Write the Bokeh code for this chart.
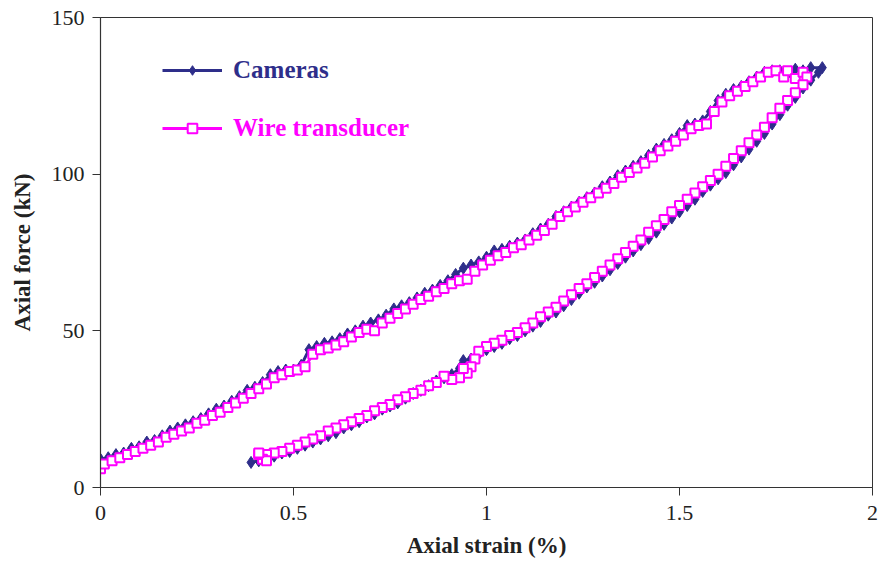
from bokeh.plotting import figure
from bokeh.models import Range1d, FixedTicker, CustomJSTickFormatter, Legend, LegendItem
from bokeh.embed import file_html
from bokeh.resources import INLINE

# ---------------- data ----------------
cam_strain = [
    0.00, 0.02, 0.04, 0.06, 0.08, 0.10, 0.12, 0.14, 0.16, 0.18, 0.20, 0.22, 0.24, 0.26, 0.28,
    0.30, 0.32, 0.34, 0.36, 0.38, 0.40, 0.42, 0.44, 0.46, 0.48, 0.50, 0.52, 0.54, 0.56, 0.58,
    0.60, 0.62, 0.64, 0.66, 0.68, 0.70, 0.72, 0.74, 0.76, 0.78, 0.80, 0.82, 0.84, 0.86, 0.88,
    0.90, 0.92, 0.94, 0.96, 0.98, 1.00, 1.02, 1.04, 1.06, 1.08, 1.10, 1.12, 1.14, 1.16, 1.18,
    1.20, 1.22, 1.24, 1.26, 1.28, 1.30, 1.32, 1.34, 1.36, 1.38, 1.40, 1.42, 1.44, 1.46, 1.48,
    1.50, 1.52, 1.54, 1.56, 1.58, 1.60, 1.62, 1.64, 1.66, 1.68, 1.70, 1.72, 1.74, 1.76, 1.78,
    1.80, 1.82, 1.84, 1.87,
    1.86, 1.84, 1.82, 1.80, 1.78, 1.76, 1.74, 1.72, 1.70, 1.68, 1.66, 1.64, 1.62, 1.60, 1.58,
    1.56, 1.54, 1.52, 1.50, 1.48, 1.46, 1.44, 1.42, 1.40, 1.38, 1.36, 1.34, 1.32, 1.30, 1.28,
    1.26, 1.24, 1.22, 1.20, 1.18, 1.16, 1.14, 1.12, 1.10, 1.08, 1.06, 1.04, 1.02, 1.00, 0.98,
    0.96, 0.94, 0.93, 0.91, 0.89, 0.87, 0.85, 0.83, 0.81, 0.79, 0.77, 0.75, 0.73, 0.71, 0.69,
    0.67, 0.65, 0.63, 0.61, 0.59, 0.57, 0.55, 0.53, 0.51, 0.49, 0.47, 0.45, 0.43, 0.41, 0.39,
]
cam_force = [
    9.0, 9.5, 10.5, 11.0, 12.5, 13.0, 14.5, 15.0, 16.5, 18.0, 19.0, 20.0, 21.0, 22.0, 23.5,
    25.0, 26.0, 27.5, 29.0, 31.0, 32.0, 33.5, 36.0, 37.0, 37.5, 37.5, 39.0, 44.0, 45.0, 46.0,
    46.5, 47.5, 49.0, 50.0, 51.5, 52.5, 53.5, 55.0, 57.0, 58.0, 59.0, 60.5, 62.0, 63.0, 64.5,
    66.0, 68.0, 70.0, 71.0, 72.0, 73.5, 75.5, 76.0, 77.0, 78.0, 79.0, 81.0, 82.5, 84.0, 86.5,
    88.0, 89.5, 91.0, 92.5, 94.0, 96.0, 97.5, 99.5, 101.0, 102.5, 104.0, 106.0, 108.0, 109.5, 111.0,
    113.0, 115.5, 116.0, 117.0, 120.0, 123.5, 125.5, 127.0, 128.0, 129.5, 131.0, 132.5, 133.0, 133.0, 132.0,
    133.5, 133.0, 134.0, 134.0,
    132.5, 130.0, 127.5, 124.5, 122.0, 119.0, 116.0, 113.0, 110.5, 108.0, 105.5, 103.0, 100.5, 98.5, 96.5,
    94.5, 92.0, 90.0, 88.0, 86.0, 84.0, 81.5, 79.5, 77.5, 75.5, 73.5, 71.5, 69.5, 67.5, 65.5,
    64.0, 62.0, 60.0, 58.0, 56.0, 55.0, 53.0, 51.5, 50.0, 48.5, 47.5, 46.0, 45.0, 44.0, 42.5,
    41.0, 40.5, 38.0, 36.0, 35.0, 34.0, 32.5, 31.0, 30.0, 28.5, 27.0, 26.0, 25.0, 23.5, 22.5,
    21.0, 20.0, 19.0, 17.5, 16.5, 15.5, 14.5, 13.5, 12.5, 11.5, 11.0, 10.0, 9.0, 8.5, 8.0,
]

wire_strain = [
    0.00, 0.01, 0.03, 0.05, 0.07, 0.09, 0.11, 0.13, 0.15, 0.17, 0.19, 0.21, 0.23, 0.25, 0.27,
    0.29, 0.31, 0.33, 0.35, 0.37, 0.39, 0.41, 0.43, 0.45, 0.47, 0.49, 0.51, 0.53, 0.55, 0.57,
    0.59, 0.61, 0.63, 0.65, 0.67, 0.69, 0.71, 0.73, 0.75, 0.77, 0.79, 0.81, 0.83, 0.85, 0.87,
    0.89, 0.91, 0.93, 0.95, 0.97, 0.99, 1.01, 1.03, 1.05, 1.07, 1.09, 1.11, 1.13, 1.15, 1.17,
    1.19, 1.21, 1.23, 1.25, 1.27, 1.29, 1.31, 1.33, 1.35, 1.37, 1.39, 1.41, 1.43, 1.45, 1.47,
    1.49, 1.51, 1.53, 1.55, 1.57, 1.59, 1.61, 1.63, 1.65, 1.67, 1.69, 1.71, 1.73, 1.75, 1.77,
    1.78, 1.80, 1.82, 1.83,
    1.82, 1.80, 1.78, 1.76, 1.74, 1.72, 1.70, 1.68, 1.66, 1.64, 1.62, 1.60, 1.58, 1.56, 1.54,
    1.52, 1.50, 1.48, 1.46, 1.44, 1.42, 1.40, 1.38, 1.36, 1.34, 1.32, 1.30, 1.28, 1.26, 1.24,
    1.22, 1.20, 1.18, 1.16, 1.14, 1.12, 1.10, 1.08, 1.06, 1.04, 1.02, 1.00, 0.98, 0.97, 0.96,
    0.95, 0.94, 0.93, 0.91, 0.89, 0.87, 0.85, 0.83, 0.81, 0.79, 0.77, 0.75, 0.73, 0.71, 0.69,
    0.67, 0.65, 0.63, 0.61, 0.59, 0.57, 0.55, 0.53, 0.51, 0.49, 0.47, 0.45, 0.43, 0.42, 0.41,
    0.43, 0.41,
]
wire_force = [
    6.0, 7.5, 8.5, 9.5, 10.5, 11.5, 12.5, 13.5, 14.5, 16.0, 17.0, 18.0, 19.0, 20.5, 21.5,
    23.0, 24.0, 25.5, 27.0, 28.5, 30.0, 31.5, 33.0, 35.0, 36.0, 37.0, 37.5, 38.5, 42.5, 44.0,
    44.5, 45.5, 46.5, 48.0, 49.5, 50.5, 50.0, 52.5, 54.0, 55.5, 57.0, 58.5, 60.0, 61.0, 62.5,
    63.5, 65.0, 66.0, 66.5, 69.0, 71.0, 72.5, 74.0, 75.0, 76.5, 77.5, 79.0, 80.5, 82.0, 84.0,
    86.5, 88.0, 89.5, 91.0, 92.5, 94.0, 95.5, 97.0, 99.0, 100.5, 102.0, 103.5, 105.5, 107.5, 109.0,
    110.5, 112.5, 114.5, 115.5, 116.0, 120.0, 123.0, 125.0, 126.5, 128.0, 129.5, 131.0, 132.5, 133.0, 131.0,
    133.0, 130.5, 132.5, 131.0,
    128.5, 126.0, 123.5, 121.0, 118.0, 115.0, 112.5, 110.0, 107.5, 105.0, 102.5, 100.0, 98.0, 96.0, 94.0,
    92.0, 90.0, 88.0, 85.5, 83.5, 81.5, 79.0, 77.0, 75.0, 73.0, 71.0, 69.0, 67.0, 65.0, 63.5,
    61.5, 59.5, 57.5, 56.0, 54.5, 52.5, 51.0, 49.5, 48.5, 47.0, 46.0, 45.0, 43.5, 41.0, 38.5,
    36.5, 38.0, 35.0, 34.5, 35.5, 33.5, 32.5, 31.0, 30.0, 29.0, 28.0, 26.5, 25.5, 24.5, 23.0,
    22.0, 21.0, 20.0, 19.0, 18.0, 16.5, 15.5, 14.5, 13.5, 12.5, 11.5, 11.0, 10.5, 9.0, 10.5,
    8.5, 11.0,
]

x_ticks = [0, 0.5, 1, 1.5, 2]
y_ticks = [0, 50, 100, 150]
series_names = ["Cameras", "Wire transducer"]

# ---------------- styling ----------------
CAM_COLOR = "#2e2e8a"
WIRE_COLOR = "#ff00ff"
SERIF = "Liberation Serif"

p = figure(width=878, height=570, output_backend="svg", toolbar_location=None,
           x_range=Range1d(0, 2), y_range=Range1d(0, 150),
           min_border_left=100, min_border_right=6, min_border_top=17, min_border_bottom=83)
p.background_fill_color = "white"
p.border_fill_color = "white"
p.outline_line_color = "#333333"
p.outline_line_width = 1
p.xgrid.visible = False
p.ygrid.visible = False

# cameras
cam_line = p.line(cam_strain, cam_force, line_color=CAM_COLOR, line_width=3)
cam_pts = p.scatter(cam_strain, cam_force, marker="diamond", size=12,
                    fill_color=CAM_COLOR, line_color=CAM_COLOR)
# wire transducer
wire_line = p.line(wire_strain, wire_force, line_color=WIRE_COLOR, line_width=3)
wire_pts = p.scatter(wire_strain, wire_force, marker="square", size=9,
                     fill_color="white", line_color=WIRE_COLOR, line_width=2)

# axes
p.xaxis.ticker = FixedTicker(ticks=x_ticks)
p.yaxis.ticker = FixedTicker(ticks=y_ticks)
p.xaxis.formatter = CustomJSTickFormatter(code="return tick.toString();")
p.yaxis.formatter = CustomJSTickFormatter(code="return tick.toString();")
for ax in (p.xaxis[0], p.yaxis[0]):
    ax.axis_line_color = "#333333"
    ax.axis_line_width = 1.2
    ax.major_tick_line_color = "#333333"
    ax.major_tick_in = 0
    ax.major_tick_out = 8
    ax.minor_tick_line_color = None
    ax.major_label_text_font = SERIF
    ax.major_label_text_font_size = "22px"
    ax.major_label_text_color = "#222222"
    ax.axis_label_text_font = SERIF
    ax.axis_label_text_font_style = "bold"
    ax.axis_label_text_font_size = "23px"
    ax.axis_label_text_color = "#222222"
p.xaxis.axis_label = "Axial strain (%)"
p.yaxis.axis_label = "Axial force (kN)"
p.xaxis.major_label_standoff = 10
p.xaxis.axis_label_standoff = 10
p.yaxis.major_label_standoff = 8
p.yaxis.axis_label_standoff = 14

# legends (one per series, each label in its series colour)
def make_legend(label, renderers, color, loc):
    lg = Legend(items=[LegendItem(label=label, renderers=renderers)], location=loc,
                glyph_width=60, glyph_height=24, label_height=24, label_standoff=11,
                padding=0, margin=0, border_line_color=None, background_fill_alpha=0,
                label_text_font=SERIF, label_text_font_style="bold",
                label_text_font_size="25px", label_text_color=color)
    return lg

p.add_layout(make_legend(series_names[0], [cam_line, cam_pts], CAM_COLOR, (62, 403)))
p.add_layout(make_legend(series_names[1], [wire_line, wire_pts], WIRE_COLOR, (62, 345)))

open("out.html", "w").write(file_html(p, INLINE))
